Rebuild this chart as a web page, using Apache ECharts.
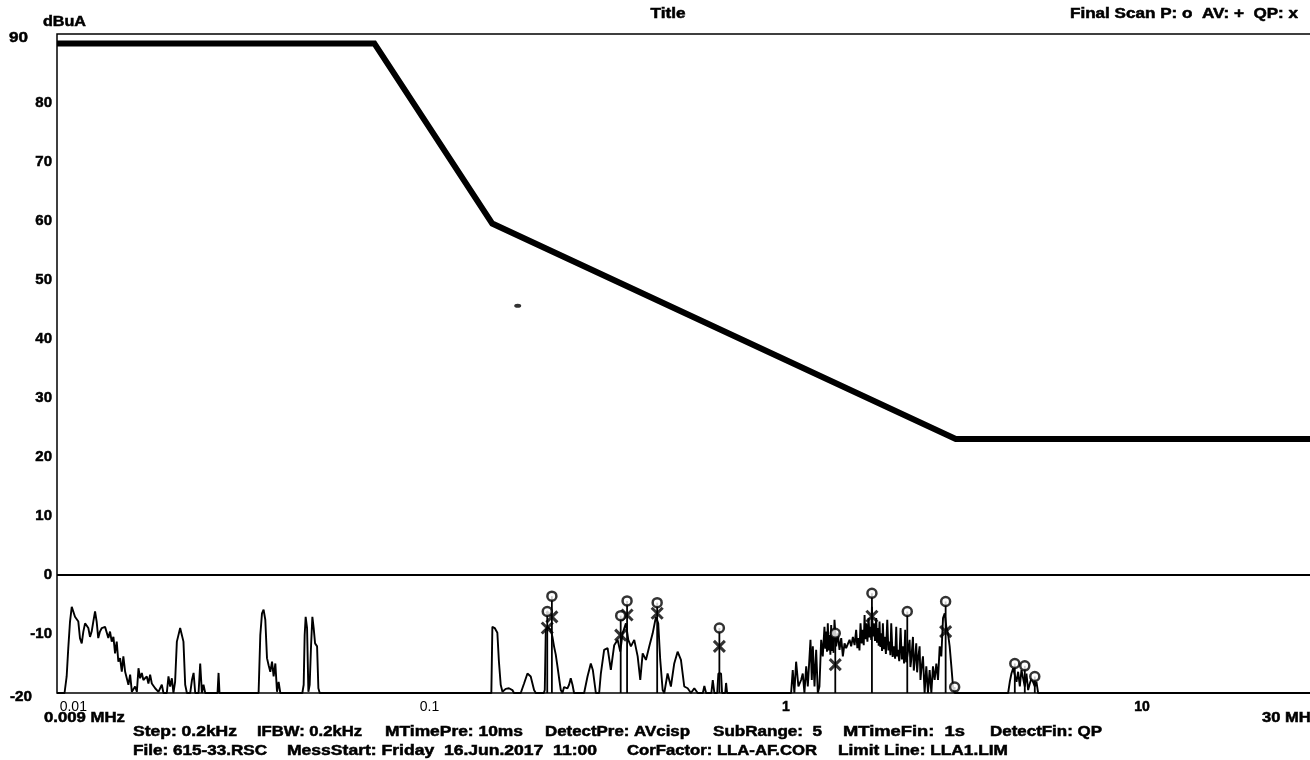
<!DOCTYPE html>
<html><head><meta charset="utf-8">
<script src="https://cdn.jsdelivr.net/npm/echarts@6/dist/echarts.min.js"></script>
<style>html,body{margin:0;padding:0;background:#fff}#c{width:1310px;height:760px}</style>
</head><body><div id="c"></div>
<script>
// ---- data (frequency in MHz, level in dBuA) ----
const xTickLabels = ['0.01', '0.1', '1', '10'];
const yTickLabels = [-20, -10, 0, 10, 20, 30, 40, 50, 60, 70, 80, 90];
const limitLine = [[0.009, 90], [0.07, 90], [0.15, 59.5], [3, 23], [30, 23]];
const prescan = [
 [0.009,-20],[0.00945,-20],[0.00958,-17.2],[0.00968,-12.4],[0.00979,-7.9],[0.00990,-5.4],[0.01000,-6.2],[0.01011,-7.1],[0.01022,-6.8],[0.01033,-7.9],[0.01044,-10.7],[0.01056,-11.6],[0.01067,-9.6],[0.01079,-8.2],[0.01091,-7.9],[0.01102,-9.0],[0.01114,-10.5],[0.01126,-9.6],[0.01138,-7.9],[0.01151,-6.2],[0.01163,-7.9],[0.01175,-10.7],[0.01188,-9.6],[0.01202,-9.0],[0.01214,-8.8],[0.01228,-8.8],[0.01241,-9.0],[0.01254,-10.7],[0.01268,-9.6],[0.01282,-11.3],[0.01296,-10.5],[0.01310,-13.3],[0.01324,-11.3],[0.01338,-14.7],[0.01353,-14.1],[0.01368,-16.4],[0.01382,-13.8],[0.01398,-16.4],[0.01413,-16.1],[0.01428,-18.6],[0.01444,-16.9],[0.01460,-19.8],[0.01475,-20],[0.01491,-18.9],[0.01508,-19.8],[0.01524,-15.8],[0.01540,-17.5],[0.01557,-16.6],[0.01573,-17.8],[0.01591,-17.8],[0.01608,-17.2],[0.01625,-18.4],[0.01643,-16.9],[0.01661,-18.4],[0.01678,-18.6],[0.01697,-19.2],[0.01716,-19.5],[0.01734,-19.8],[0.01753,-20],[0.01772,-18.6],[0.01791,-20],[0.01830,-20],[0.01850,-17.2],[0.01870,-18.9],[0.01891,-17.5],[0.01910,-20],[0.01931,-18.1],[0.01953,-11.3],[0.01973,-10.2],[0.01995,-9.0],[0.02017,-8.8],[0.02038,-11.3],[0.02061,-18.6],[0.02084,-20],[0.02129,-20],[0.02153,-17.8],[0.02176,-16.6],[0.02199,-20],[0.02247,-20],[0.02271,-15.0],[0.02296,-20],[0.02320,-18.6],[0.02346,-20],[0.02540,-20],[0.02557,-16.6],[0.02573,-20],
 [0.03312,-20],[0.03349,-10.2],[0.03386,-6.5],[0.03421,-5.9],[0.03459,-7.6],[0.03497,-14.1],[0.03534,-15.3],[0.03573,-16.4],[0.03613,-14.7],[0.03650,-17.2],[0.03691,-15.0],[0.03731,-19.8],[0.03770,-18.1],[0.03812,-20],
 [0.04395,-20],[0.04433,-18.6],[0.04461,-10.2],[0.04490,-7.1],[0.04531,-9.0],[0.04570,-19.8],[0.04608,-18.6],[0.04650,-11.9],[0.04689,-7.1],[0.04729,-9.0],[0.04772,-11.6],[0.04834,-12.1],[0.04875,-19.2],[0.04917,-20],
 [0.1491,-20],[0.1501,-8.8],[0.1524,-9.0],[0.1550,-9.8],[0.1566,-14.7],[0.1584,-18.6],[0.1602,-19.8],[0.1618,-20],[0.1636,-19.3],[0.1671,-19.2],[0.1708,-19.5],[0.1726,-20],[0.1803,-20],[0.1842,-18.4],[0.1883,-16.7],[0.1903,-16.6],[0.1923,-17.2],[0.1965,-19.5],[0.1987,-20],
 [0.2093,-20],[0.2106,-19.5],[0.2120,-9.3],[0.2143,-8.8],[0.2165,-9.0],[0.2189,-9.3],[0.2213,-10.5],[0.2236,-12.1],[0.2261,-13.5],[0.2286,-15.5],[0.2310,-17.5],[0.2336,-19.5],[0.2361,-20],[0.2386,-19.0],[0.2438,-19.2],[0.2464,-18.6],[0.2491,-17.5],[0.2519,-18.6],[0.2545,-20],[0.2716,-20],[0.2776,-17.2],[0.2836,-15.0],[0.2873,-16.1],[0.2930,-20],[0.2993,-20],[0.3026,-16.7],[0.3091,-12.7],[0.3161,-12.4],[0.3228,-16.1],[0.3299,-11.9],[0.3373,-11.0],[0.3430,-13.0],[0.3483,-9.9],[0.3558,-8.2],[0.3613,-11.0],[0.3675,-12.1],[0.3755,-11.0],[0.3839,-13.8],[0.3904,-17.8],[0.3965,-13.3],[0.4050,-14.4],[0.4139,-12.1],[0.4230,-9.9],[0.4320,-7.1],[0.4385,-8.2],[0.4442,-14.4],[0.4512,-19.5],[0.4559,-20],[0.4658,-16.7],[0.4759,-18.9],[0.4863,-15.0],[0.4970,-13.0],[0.5078,-14.4],[0.5188,-18.9],[0.5303,-19.2],[0.5418,-20],[0.5536,-19.2],[0.5659,-20],[0.5850,-20],[0.5908,-18.8],[0.5974,-20],[0.6180,-20],[0.6238,-17.8],[0.6303,-20],[0.6420,-20],[0.6468,-16.7],[0.6510,-16.7],[0.6581,-16.7],[0.6624,-20],[0.6760,-20],[0.6799,-18.3],[0.6843,-20],
 [1.035,-20],[1.046,-16.1],[1.057,-20],[1.069,-14.7],[1.085,-18.9],[1.104,-17.8],[1.116,-16.7],[1.128,-20],[1.141,-15.5],[1.153,-18.9],[1.173,-11.0],[1.183,-17.8],[1.191,-12.1],[1.204,-18.9],[1.217,-12.7],[1.230,-20],[1.243,-18.9],[1.257,-11.0],[1.270,-13.8],[1.284,-8.8],[1.291,-12.5],[1.298,-9.6],[1.305,-13.0],[1.312,-8.2],[1.320,-12.8],[1.327,-10.2],[1.334,-13.5],[1.341,-8.5],[1.348,-12.9],[1.355,-9.3],[1.362,-13.2],[1.370,-7.6],[1.385,-12.1],[1.400,-9.9],[1.415,-12.7],[1.431,-10.7],[1.446,-13.8],[1.462,-11.6],[1.477,-12.4],[1.494,-12.7],[1.510,-11.0],[1.526,-12.1],[1.543,-10.5],[1.560,-11.9],[1.576,-9.3],[1.588,-12.4],[1.600,-10.7],[1.610,-12.8],[1.621,-8.2],[1.634,-11.6],[1.646,-9.3],[1.655,-11.9],[1.664,-6.8],[1.673,-10.9],[1.682,-8.2],[1.695,-11.3],[1.708,-7.3],[1.718,-10.6],[1.729,-8.8],[1.737,-11.0],[1.745,-5.4],[1.756,-10.4],[1.767,-8.2],[1.780,-11.2],[1.794,-7.3],[1.803,-11.5],[1.813,-9.0],[1.823,-12.0],[1.833,-7.9],[1.843,-12.2],[1.853,-9.9],[1.863,-12.9],[1.873,-8.2],[1.884,-12.6],[1.894,-10.5],[1.910,-13.4],[1.927,-7.6],[1.941,-12.8],[1.956,-11.3],[1.966,-13.6],[1.977,-8.2],[1.995,-13.9],[2.012,-12.1],[2.027,-14.2],[2.042,-8.8],[2.053,-13.8],[2.064,-12.7],[2.082,-14.6],[2.100,-9.0],[2.116,-14.3],[2.132,-12.1],[2.148,-15.0],[2.164,-9.3],[2.178,-14.8],[2.193,-13.8],[2.226,-11.0],[2.238,-15.6],[2.250,-14.4],[2.275,-10.5],[2.287,-16.2],[2.299,-15.0],[2.324,-11.6],[2.337,-16.5],[2.350,-14.4],[2.375,-12.1],[2.388,-17.8],[2.401,-16.1],[2.427,-13.8],[2.453,-20],[2.480,-15.5],[2.507,-20],[2.534,-16.1],[2.562,-20],[2.589,-15.5],[2.617,-17.8],[2.646,-15.0],[2.675,-17.8],[2.704,-12.1],[2.733,-13.8],[2.763,-7.3],[2.793,-6.5],[2.823,-8.8],[2.853,-9.9],[2.884,-12.1],[2.916,-15.5],[2.947,-18.9],[2.979,-20],
 [4.209,-20],[4.254,-18.1],[4.300,-16.7],[4.347,-15.8],[4.394,-15.5],[4.442,-18.1],[4.490,-16.4],[4.539,-18.9],[4.587,-16.1],[4.637,-15.8],[4.687,-18.9],[4.738,-16.7],[4.789,-19.5],[4.842,-18.4],[4.894,-17.5],[4.946,-17.2],[5.000,-18.9],[5.054,-18.1],[5.109,-20],[30,-20]
];
const peakFinal = [[0.2140,-6.2],[0.2205,-3.6],[0.3440,-6.9],[0.3585,-4.4],[0.4355,-4.7],[0.651,-9.0],[1.377,-9.9],[1.745,-3.1],[2.193,-6.2],[2.81,-4.5],[2.979,-19.0],[4.394,-15.0],[4.687,-15.4],[5.000,-17.2]];
const qpFinal = [[0.2140,-9.0],[0.2205,-7.1],[0.3440,-10.2],[0.3585,-6.8],[0.4355,-6.5],[0.651,-12.1],[1.377,-15.2],[1.745,-7.0],[2.81,-9.6]];
const strayDot = [[0.1768,45.6]];

// ---- texts ----
const FAM = '"Liberation Sans", Arial, sans-serif';
const measureCtx = document.createElement('canvas').getContext('2d');
function txt(str, x, y, w, size, align, weight) {
  const font = (weight || 'bold') + ' ' + size + 'px ' + FAM;
  measureCtx.font = font;
  const m = measureCtx.measureText(str).width;
  return {type: 'text', x: x, y: y, scaleX: w ? w / m : 1, silent: true, z: 10,
    style: {text: str, font: font, fill: '#000', stroke: '#000', lineWidth: 0.5,
      textAlign: align || 'left', textVerticalAlign: 'middle'}};
}
const texts = [
  txt('dBuA', 43, 22, 43, 14),
  txt('Title', 668, 14, 35, 14, 'center'),
  txt('Final Scan P: o  AV: +  QP: x', 1298, 14, 228, 14, 'right'),
  txt(String(yTickLabels[yTickLabels.length - 1]), 28, 38, 19, 15, 'right'),
  txt(String(yTickLabels[0]), 32, 697, 22, 15, 'right'),
  txt('0.009 MHz', 44, 718, 81, 14),
  txt('30 MHz', 1262, 718, 57, 14),
  txt('Step: 0.2kHz', 133, 732, 104, 14),
  txt('IFBW: 0.2kHz', 257, 732, 105, 14),
  txt('MTimePre: 10ms', 385, 732, 138, 14),
  txt('DetectPre: AVcisp', 545, 732, 145, 14),
  txt('SubRange:  5', 713, 732, 109, 14),
  txt('MTimeFin:  1s', 843, 732, 122, 14),
  txt('DetectFin: QP', 990, 732, 112, 14),
  txt('File: 615-33.RSC', 133, 751, 134, 14),
  txt('MessStart: Friday  16.Jun.2017  11:00', 287, 751, 310, 14),
  txt('CorFactor: LLA-AF.COR', 627, 751, 190, 14),
  txt('Limit Line: LLA1.LIM', 838, 751, 170, 14)
];

const chart = echarts.init(document.getElementById('c'));
chart.setOption({
  animation: false,
  backgroundColor: '#fff',
  grid: {left: 57, right: -2, top: 34, bottom: 67, outerBoundsMode: 'none', containLabel: false,
    show: true, borderColor: '#000', borderWidth: 1.5, backgroundColor: 'transparent'},
  xAxis: {
    type: 'log', logBase: 10, min: 0.009, max: 30,
    axisLine: {show: false}, axisTick: {show: false}, splitLine: {show: false},
    axisLabel: {
      margin: 7, color: '#000',
      formatter: function (v) {
        const l = Math.log10(v), r = Math.round(l);
        if (Math.abs(l - r) > 1e-6) return '';
        const s = xTickLabels[r + 2];
        if (s === undefined) return '';
        return r < 0 ? '{n|' + s + '}' : '{b|' + s + '}';
      },
      rich: {
        n: {fontSize: 14, fontWeight: 'normal', fontFamily: FAM, color: '#000'},
        b: {fontSize: 14, fontWeight: 'bold', fontFamily: FAM, color: '#000', textBorderColor: '#000', textBorderWidth: 0.5}
      }
    }
  },
  yAxis: {
    type: 'value', min: -20, max: 91.6, interval: 10,
    axisLine: {show: false}, axisTick: {show: false}, splitLine: {show: false},
    axisLabel: {
      margin: 5, color: '#000', fontSize: 15, fontWeight: 'bold', fontFamily: FAM,
      textBorderColor: '#000', textBorderWidth: 0.5,
      formatter: function (v) {
        const i = yTickLabels.indexOf(v);
        return (i > 0 && i < yTickLabels.length - 1) ? String(v) : '';
      }
    }
  },
  series: [
    {
      type: 'line', data: prescan, symbol: 'none', z: 2,
      lineStyle: {color: '#000', width: 1.9}, silent: true,
      markLine: {silent: true, symbol: 'none', label: {show: false},
        lineStyle: {color: '#000', width: 2, type: 'solid'}, data: [{yAxis: 0}]}
    },
    {
      type: 'line', data: limitLine, symbol: 'none', z: 4, silent: true,
      lineStyle: {color: '#000', width: 6, join: 'miter'}
    },
    {
      type: 'custom', data: peakFinal, z: 3, silent: true,
      encode: {x: 0, y: 1},
      renderItem: function (params, api) {
        const a = api.coord([api.value(0), api.value(1)]);
        const b = api.coord([api.value(0), -20]);
        return {type: 'line', shape: {x1: a[0], y1: a[1], x2: b[0], y2: b[1]}, style: {stroke: '#000', lineWidth: 1.8}};
      }
    },
    {
      type: 'scatter', data: qpFinal, z: 5, silent: true,
      symbol: 'path://M0,0L10,10M10,0L0,10', symbolSize: 11,
      itemStyle: {color: 'none', borderColor: '#000', borderWidth: 3}
    },
    {
      type: 'scatter', data: peakFinal, z: 6, silent: true,
      symbol: 'circle', symbolSize: 9,
      itemStyle: {color: '#fff', borderColor: '#000', borderWidth: 2.5}
    },
    {
      type: 'scatter', data: strayDot, z: 6, silent: true,
      symbol: 'circle', symbolSize: [7, 4], itemStyle: {color: '#000'}
    }
  ],
  graphic: texts
});
</script></body></html>
